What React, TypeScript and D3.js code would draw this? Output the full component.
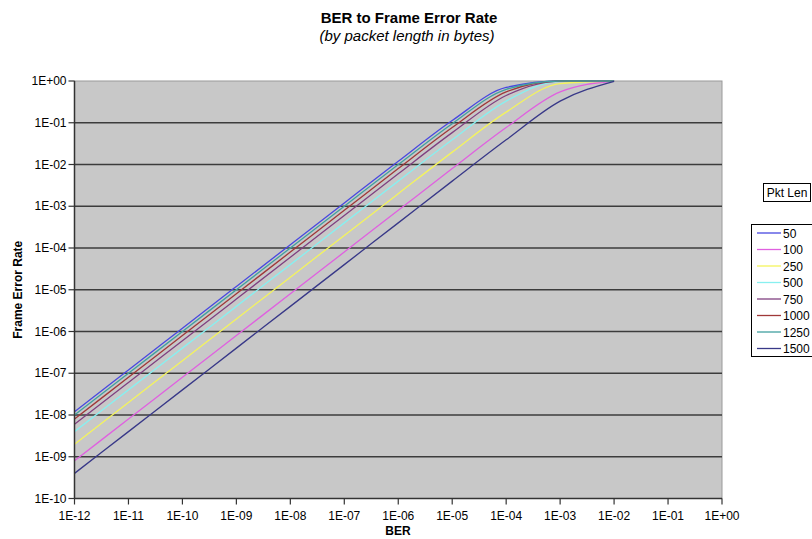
import React from "react";
import * as d3 from "d3";

const berTicks = ["1E-12","1E-11","1E-10","1E-09","1E-08","1E-07","1E-06","1E-05","1E-04","1E-03","1E-02","1E-01","1E+00"];
const ferTicks = ["1E+00","1E-01","1E-02","1E-03","1E-04","1E-05","1E-06","1E-07","1E-08","1E-09","1E-10"];
const berPoints = [1e-12,1e-11,1e-10,1e-9,1e-8,1e-7,1e-6,1e-5,1e-4,1e-3,1e-2];

const seriesLabels = ["50","100","250","500","750","1000","1250","1500"];
const seriesColors = ["#4848e0","#e060e0","#f4f45c","#88f0f0","#804080","#a03838","#40a0a0","#383888"];

const s50 = [1.2e-8,1.2e-7,1.2e-6,1.2e-5,1.2e-4,1.2e-3,1.19e-2,0.113,0.70,1.0,1.0];
const s100 = [8e-10,8e-9,8e-8,8e-7,8e-6,8e-5,8e-4,0.008,0.077,0.55,1.0];
const s250 = [2e-9,2e-8,2e-7,2e-6,2e-5,2e-4,0.002,0.0198,0.18,0.865,1.0];
const s500 = [4e-9,4e-8,4e-7,4e-6,4e-5,4e-4,0.004,0.039,0.33,0.98,1.0];
const s750 = [6e-9,6e-8,6e-7,6e-6,6e-5,6e-4,0.006,0.058,0.45,0.998,1.0];
const s1000 = [8e-9,8e-8,8e-7,8e-6,8e-5,8e-4,0.008,0.077,0.55,1.0,1.0];
const s1250 = [1e-8,1e-7,1e-6,1e-5,1e-4,1e-3,0.00995,0.095,0.63,1.0,1.0];
const s1500 = [4e-10,4e-9,4e-8,4e-7,4e-6,4e-5,4e-4,0.004,0.039,0.33,0.98];
const seriesValues = [s50,s100,s250,s500,s750,s1000,s1250,s1500];

const W = 812, H = 539;
const L = 74.5, R = 722, T = 81, B = 498.5;

export default function App() {
  const x = d3.scaleLog().domain([1e-12, 1]).range([L, R]);
  const y = d3.scaleLog().domain([1e-10, 1]).range([B, T]);
  const line = d3.line<[number, number]>()
    .x(d => x(d[0]))
    .y(d => y(d[1]))
    .curve(d3.curveMonotoneX);
  const xVals = berTicks.map(t => +t);
  const yVals = ferTicks.map(t => +t);
  const font = "Arial, 'Liberation Sans', sans-serif";
  const legendTop = 224;
  const legendStep = 16.5;
  return (
    <svg width={W} height={H} style={{ position: "absolute", left: 0, top: 0, fontFamily: font }}>
      <rect x={0} y={0} width={W} height={H} fill="#ffffff" />
      <text x={409} y={23} textAnchor="middle" fontSize={15} fontWeight="bold" fill="#000">BER to Frame Error Rate</text>
      <text x={407} y={41} textAnchor="middle" fontSize={15} fontStyle="italic" fill="#000">(by packet length in bytes)</text>
      <rect x={L} y={T} width={R - L} height={B - T} fill="#c8c8c8" stroke="#9a9a9a" strokeWidth={1} />
      {yVals.slice(1, -1).map((v, i) => (
        <line key={"g" + i} x1={L} x2={R} y1={y(v)} y2={y(v)} stroke="#3c3c3c" strokeWidth={1.5} />
      ))}
      <g>
        {seriesValues.map((vals, i) => (
          <path key={"s" + i} d={line(berPoints.map((b, j) => [b, vals[j]]) as [number, number][]) || ""}
            fill="none" stroke={seriesColors[i]} strokeWidth={1.3} />
        ))}
      </g>
      <line x1={L} x2={L} y1={T} y2={B} stroke="#333" strokeWidth={1.5} />
      <line x1={L} x2={R} y1={B} y2={B} stroke="#333" strokeWidth={1.5} />
      {yVals.map((v, i) => (
        <g key={"yt" + i}>
          <line x1={L - 6} x2={L} y1={y(v)} y2={y(v)} stroke="#333" strokeWidth={1.2} />
          <text x={L - 8} y={y(v) + 4} textAnchor="end" fontSize={12} fill="#000">{ferTicks[i]}</text>
        </g>
      ))}
      {xVals.map((v, i) => (
        <g key={"xt" + i}>
          <line x1={x(v)} x2={x(v)} y1={B} y2={B + 6} stroke="#333" strokeWidth={1.2} />
          <text x={x(v)} y={B + 21} textAnchor="middle" fontSize={12} fill="#000">{berTicks[i]}</text>
        </g>
      ))}
      <text x={398} y={535} textAnchor="middle" fontSize={12} fontWeight="bold" fill="#000">BER</text>
      <text transform={`translate(22, ${(T + B) / 2}) rotate(-90)`} textAnchor="middle" fontSize={12} fontWeight="bold" fill="#000">Frame Error Rate</text>
      <rect x={763.5} y={183.5} width={47} height={18} fill="#fff" stroke="#000" strokeWidth={1} />
      <text x={787} y={197} textAnchor="middle" fontSize={12} fill="#000">Pkt Len</text>
      <rect x={751.5} y={legendTop + 0.5} width={70} height={legendStep * 8} fill="#fff" stroke="#000" strokeWidth={1} />
      {seriesLabels.map((lab, i) => {
        const cy = legendTop + 9 + i * legendStep;
        return (
          <g key={"l" + i}>
            <line x1={757} x2={781} y1={cy} y2={cy} stroke={seriesColors[i]} strokeWidth={1.3} />
            <text x={783} y={cy + 4.5} fontSize={12} fill="#000">{lab}</text>
          </g>
        );
      })}
    </svg>
  );
}
